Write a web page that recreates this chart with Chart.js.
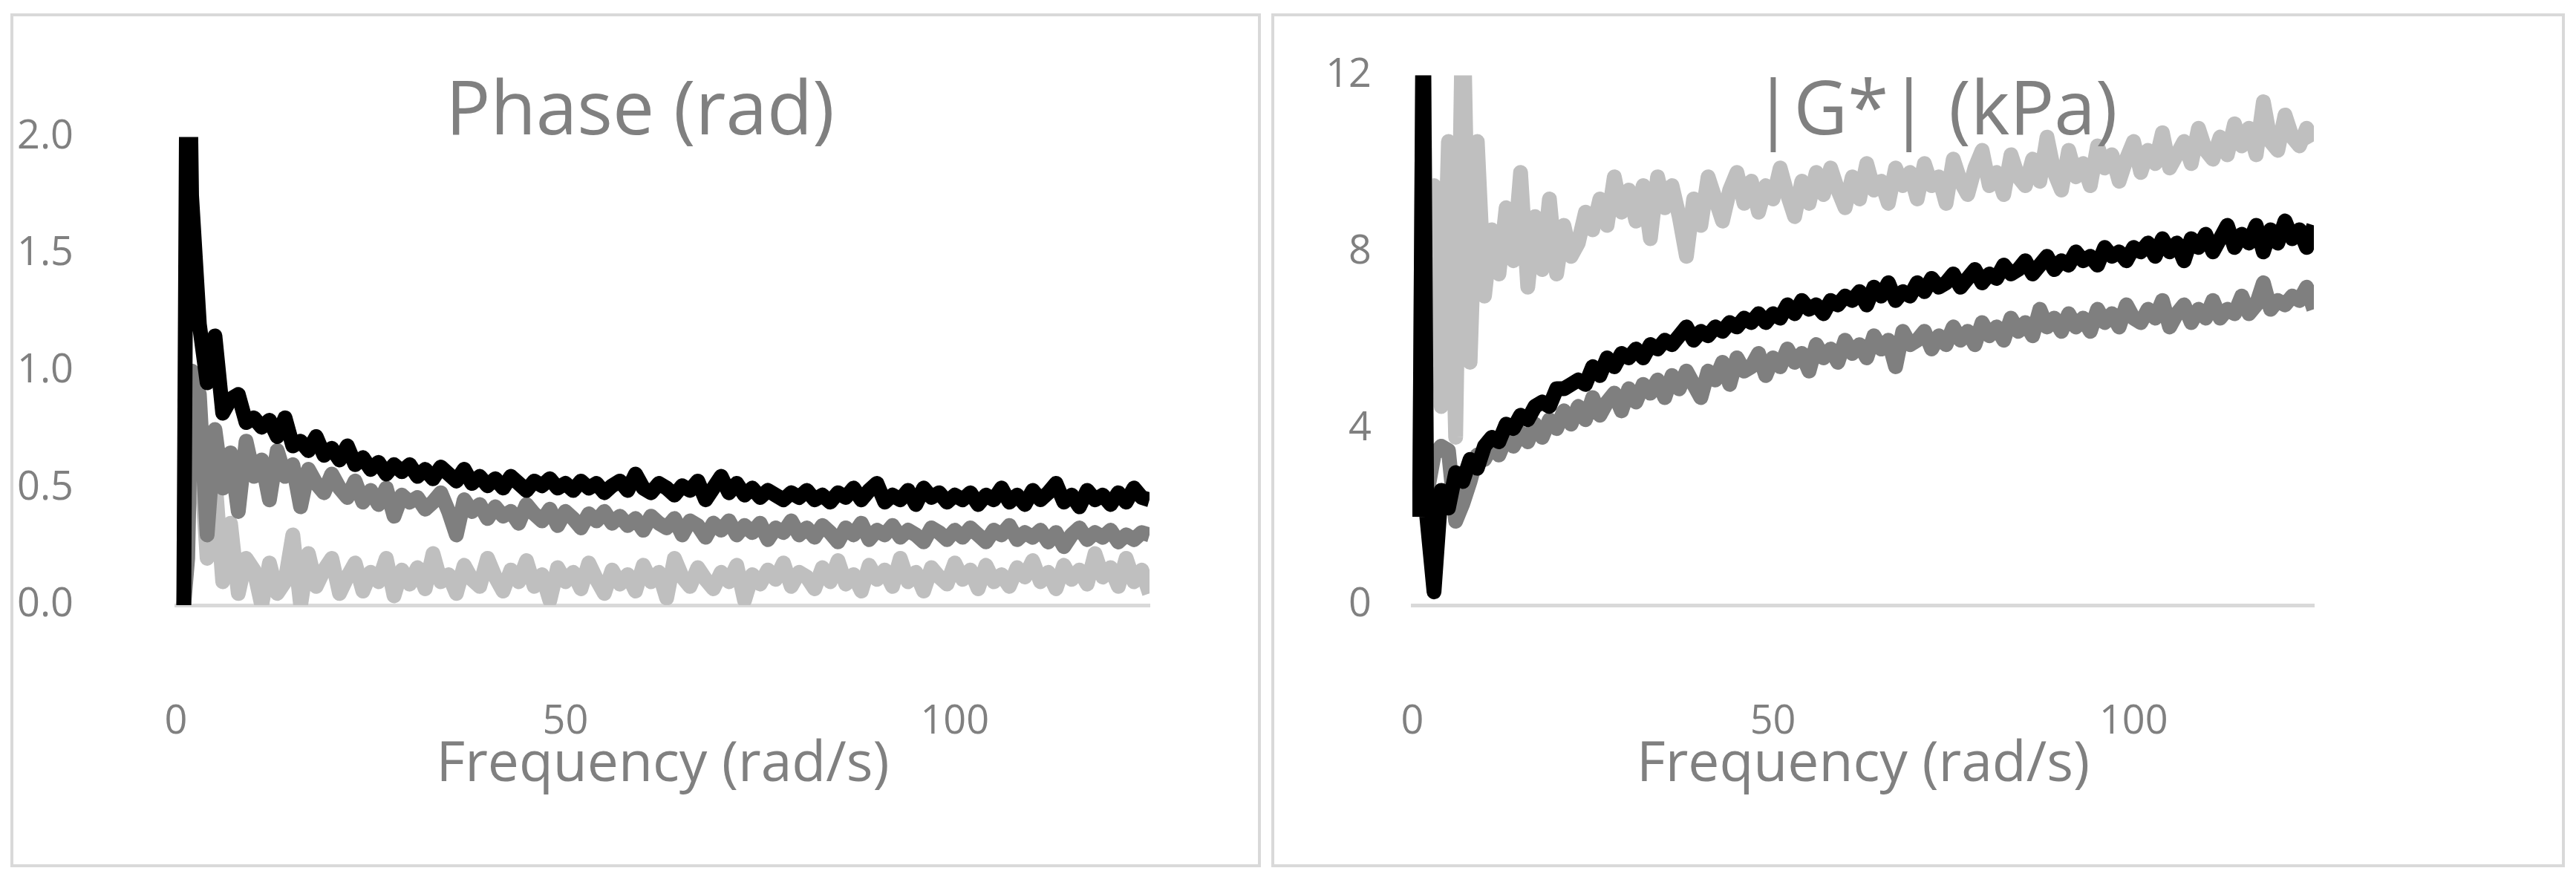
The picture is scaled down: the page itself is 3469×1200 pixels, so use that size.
<!DOCTYPE html>
<html>
<head>
<meta charset="UTF-8">
<script src="https://cdn.jsdelivr.net/npm/chart.js"></script>
<style>
  body { margin: 0; background: #fff; width: 3469px; height: 1200px; position: relative; overflow: hidden; font-family: "Open Sans", sans-serif; }
  .panel { position: absolute; top: 18px; height: 1150px; border: 4px solid #d9d9d9; box-sizing: border-box; background: #fff; }
  .panel canvas { position: absolute; left: 0; top: 0; }
  .title { position: absolute; top: 60px; color: #808080; font-size: 100px; transform: translateX(-50%); white-space: nowrap; line-height: 1.2; }
</style>
</head>
<body>
<div class="panel" id="p1" style="left:14px; width:1684px;"><canvas id="phase"></canvas><div class="title" style="left:844px;">Phase (rad)</div></div>
<div class="panel" id="p2" style="left:1712px; width:1742px;"><canvas id="gstar"></canvas><div class="title" style="left:890px;">|G*| (kPa)</div></div>
<script>
// frequency (rad/s): 1, 1.5, 2, 3 ... 125
const freq = [1, 1.5];
for (let f = 2; f <= 125; f++) freq.push(f);

const phaseBlack = [0, 3, 1.75,
  1.2,0.95,1.15,0.82,0.88,0.9,0.78,0.8,
  0.76,0.79,0.72,0.8,0.68,0.7,0.66,0.72,0.64,0.67,
  0.62,0.68,0.6,0.63,0.58,0.61,0.56,0.6,0.57,0.6,
  0.55,0.58,0.54,0.59,0.56,0.53,0.58,0.52,0.55,0.51,
  0.54,0.5,0.55,0.52,0.49,0.53,0.51,0.54,0.5,0.52,
  0.49,0.53,0.5,0.52,0.48,0.51,0.53,0.49,0.56,0.5,
  0.48,0.52,0.5,0.47,0.51,0.49,0.53,0.45,0.5,0.55,
  0.48,0.52,0.47,0.5,0.46,0.49,0.47,0.45,0.48,0.46,
  0.49,0.45,0.47,0.44,0.48,0.46,0.5,0.45,0.49,0.52,
  0.44,0.47,0.45,0.49,0.43,0.5,0.46,0.48,0.44,0.47,
  0.45,0.48,0.43,0.47,0.45,0.5,0.44,0.47,0.43,0.49,
  0.45,0.48,0.52,0.44,0.47,0.42,0.49,0.45,0.47,0.43,
  0.48,0.44,0.5,0.46,0.45];
const phaseDark = [0, 0.2, 1.0,
  0.9,0.3,0.75,0.5,0.65,0.4,0.7,0.55,
  0.62,0.45,0.66,0.55,0.6,0.42,0.58,0.52,0.48,0.56,
  0.5,0.46,0.53,0.44,0.49,0.43,0.5,0.38,0.47,0.44,
  0.46,0.41,0.44,0.48,0.4,0.3,0.45,0.4,0.43,0.37,
  0.42,0.38,0.4,0.35,0.43,0.39,0.36,0.41,0.34,0.4,
  0.37,0.33,0.39,0.36,0.4,0.35,0.38,0.34,0.37,0.32,
  0.38,0.35,0.33,0.37,0.3,0.36,0.34,0.29,0.35,0.32,
  0.36,0.3,0.34,0.31,0.35,0.28,0.33,0.31,0.36,0.3,
  0.33,0.29,0.34,0.31,0.27,0.33,0.3,0.35,0.28,0.32,
  0.3,0.34,0.29,0.32,0.3,0.27,0.33,0.31,0.28,0.32,
  0.29,0.33,0.3,0.27,0.32,0.3,0.34,0.28,0.31,0.29,
  0.32,0.27,0.31,0.25,0.3,0.33,0.28,0.31,0.29,0.32,
  0.27,0.3,0.28,0.31,0.3];
const phaseLight = [0, 0.7, 0.75,
  0.7,0.2,0.55,0.1,0.35,0.05,0.2,0.15,
  0.0,0.18,0.05,0.1,0.3,0.0,0.22,0.08,0.15,0.2,
  0.05,0.12,0.18,0.06,0.14,0.1,0.2,0.04,0.15,0.09,
  0.16,0.07,0.22,0.1,0.13,0.05,0.17,0.11,0.08,0.2,
  0.12,0.06,0.15,0.1,0.19,0.08,0.13,0.02,0.16,0.1,
  0.14,0.07,0.18,0.11,0.05,0.15,0.09,0.13,0.06,0.17,
  0.1,0.14,0.03,0.2,0.12,0.08,0.16,0.11,0.07,0.14,
  0.1,0.17,0.02,0.13,0.09,0.15,0.11,0.18,0.08,0.14,
  0.12,0.07,0.16,0.1,0.19,0.09,0.13,0.06,0.17,0.11,
  0.15,0.08,0.2,0.1,0.14,0.06,0.16,0.12,0.09,0.18,
  0.11,0.15,0.07,0.17,0.1,0.13,0.08,0.16,0.12,0.19,
  0.1,0.14,0.07,0.17,0.11,0.15,0.09,0.22,0.12,0.16,
  0.08,0.2,0.1,0.15,0.05];

const gBlack = [2, 14, 2.0,
  0.3,2.6,2.2,3.0,2.8,3.3,3.1,3.6,
  3.8,3.7,4.1,4.0,4.3,4.2,4.5,4.6,4.5,4.9,
  4.9,5.0,5.1,5.0,5.4,5.2,5.6,5.4,5.7,5.6,
  5.8,5.6,5.9,5.8,6.0,5.9,6.1,6.3,6.0,6.2,
  6.1,6.3,6.2,6.4,6.3,6.5,6.4,6.6,6.4,6.6,
  6.5,6.8,6.6,6.9,6.7,6.8,6.6,6.9,6.8,7.0,
  6.9,7.1,6.8,7.2,7.0,7.3,6.9,7.1,7.0,7.3,
  7.1,7.4,7.2,7.3,7.5,7.2,7.4,7.6,7.3,7.5,
  7.4,7.7,7.5,7.6,7.8,7.5,7.7,7.9,7.6,7.8,
  7.7,8.0,7.8,7.9,7.7,8.1,7.9,8.0,7.8,8.1,
  8.0,8.2,7.9,8.3,8.0,8.2,7.8,8.3,8.1,8.4,
  8.0,8.3,8.6,8.1,8.4,8.2,8.6,8.0,8.5,8.2,
  8.7,8.3,8.5,8.1,8.6];
const gDark = [2, 4.7, 2.5,
  3.4,3.6,3.5,1.9,2.3,2.8,3.4,3.3,
  3.6,3.4,3.8,3.6,3.9,3.7,4.1,3.8,4.2,4.0,
  4.4,4.1,4.5,4.2,4.7,4.3,4.6,4.8,4.4,4.9,
  4.6,5.0,4.8,5.1,4.7,5.2,4.9,5.3,5.0,4.7,
  5.3,5.1,5.5,5.0,5.6,5.3,5.4,5.7,5.2,5.6,
  5.4,5.8,5.5,5.7,5.3,5.9,5.6,5.8,5.5,6.0,
  5.7,5.9,5.6,6.1,5.8,6.0,5.4,6.2,5.9,6.0,
  6.2,5.8,6.1,5.9,6.3,6.0,6.2,5.9,6.4,6.1,
  6.3,6.0,6.5,6.2,6.4,6.1,6.7,6.3,6.5,6.2,
  6.6,6.3,6.5,6.2,6.7,6.4,6.6,6.3,6.8,6.5,
  6.4,6.7,6.5,6.9,6.3,6.6,6.8,6.4,6.7,6.5,
  6.9,6.5,6.7,6.6,7.0,6.6,6.8,7.3,6.7,6.9,
  6.8,7.0,6.9,7.2,6.7];
const gLight = [2, 14, 5,
  9.5,4.5,10.5,3.8,14,5.5,10.5,7,
  8.5,7.5,9.0,7.8,9.8,7.2,8.8,7.6,9.2,7.5,
  8.6,7.9,8.2,8.9,8.5,9.2,8.6,9.7,8.9,9.4,
  8.7,9.5,8.3,9.7,9.0,9.5,8.8,7.9,9.2,8.6,
  9.7,9.2,8.7,9.4,9.8,9.1,9.6,8.9,9.5,9.2,
  9.9,9.3,8.8,9.6,9.1,9.8,9.3,9.9,9.4,9.0,
  9.7,9.2,10.0,9.4,9.6,9.1,9.9,9.5,9.8,9.2,
  10.0,9.5,9.7,9.1,10.1,9.6,9.3,9.9,10.3,9.5,
  9.8,9.3,10.2,9.7,9.5,10.1,9.6,10.6,9.8,9.4,
  10.3,9.7,10.0,9.5,10.4,9.9,10.2,9.6,10.1,10.5,
  9.8,10.3,10.0,10.7,9.9,10.2,10.5,10.0,10.8,10.3,
  10.1,10.6,10.2,10.9,10.4,10.8,10.2,11.4,10.5,10.3,
  11.1,10.6,10.4,10.8,10.5];

const xTicks = [0, 50, 100];
const phaseTicks = [0, 0.5, 1.0, 1.5, 2.0];
const gTicks = [0, 4, 8, 12];

const grey = "#808080";
const tickFont = { family: "Open Sans", size: 54 };

function pts(ys) { return ys.map((y, i) => ({ x: freq[i], y })); }

function makeChart(id, w, h, series, yTicks, yMax, yDigits, geom) {
  const c = document.getElementById(id);
  c.width = w; c.height = h;
  new Chart(c, {
    type: "line",
    data: {
      datasets: series.map(s => ({
        data: pts(s.data), borderColor: s.color, borderWidth: 20,
        pointRadius: 0, tension: 0, fill: false, borderJoinStyle: "round"
      }))
    },
    options: {
      responsive: false, animation: false, devicePixelRatio: 1,
      layout: { padding: { left: 0, right: geom.right, top: geom.top, bottom: 0 } },
      plugins: { legend: { display: false }, tooltip: { enabled: false } },
      scales: {
        x: {
          type: "linear", min: 0, max: 125,
          grid: { display: false },
          border: { display: true, color: "#d9d9d9", width: 5 },
          afterBuildTicks: s => { s.ticks = xTicks.map(v => ({ value: v })); },
          afterFit: s => { s.height = geom.xh; },
          ticks: { color: grey, font: tickFont, padding: 117, maxRotation: 0 },
          title: { display: true, text: "Frequency (rad/s)", color: grey,
                   font: { family: "Open Sans", size: 75 }, padding: { top: 0, bottom: 88 } }
        },
        y: {
          min: 0, max: yMax,
          grid: { display: false },
          border: { display: false },
          afterBuildTicks: s => { s.ticks = yTicks.map(v => ({ value: v })); },
          afterFit: s => { s.width = geom.yw; },
          ticks: { color: grey, font: tickFont, padding: geom.ypad,
                   callback: v => v.toFixed(yDigits) }
        }
      }
    }
  });
}

makeChart("phase", 1676, 1142,
  [{ data: phaseBlack, color: "#000000" },
   { data: phaseDark, color: "#7f7f7f" },
   { data: phaseLight, color: "#bfbfbf" }],
  phaseTicks, 2.0, 1,
  { right: 1676 - (1548 - 18), top: 10, xh: 1142 - (815 - 22), yw: 237 - 18, ypad: 130 });

makeChart("gstar", 1734, 1142,
  [{ data: gBlack, color: "#000000" },
   { data: gDark, color: "#7f7f7f" },
   { data: gLight, color: "#bfbfbf" }],
  gTicks, 12, 0,
  { right: 1734 - (3116 - 1716), top: 10, xh: 1142 - (815 - 22), yw: 1902 - 1716, ypad: 47 });
</script>
</body>
</html>
